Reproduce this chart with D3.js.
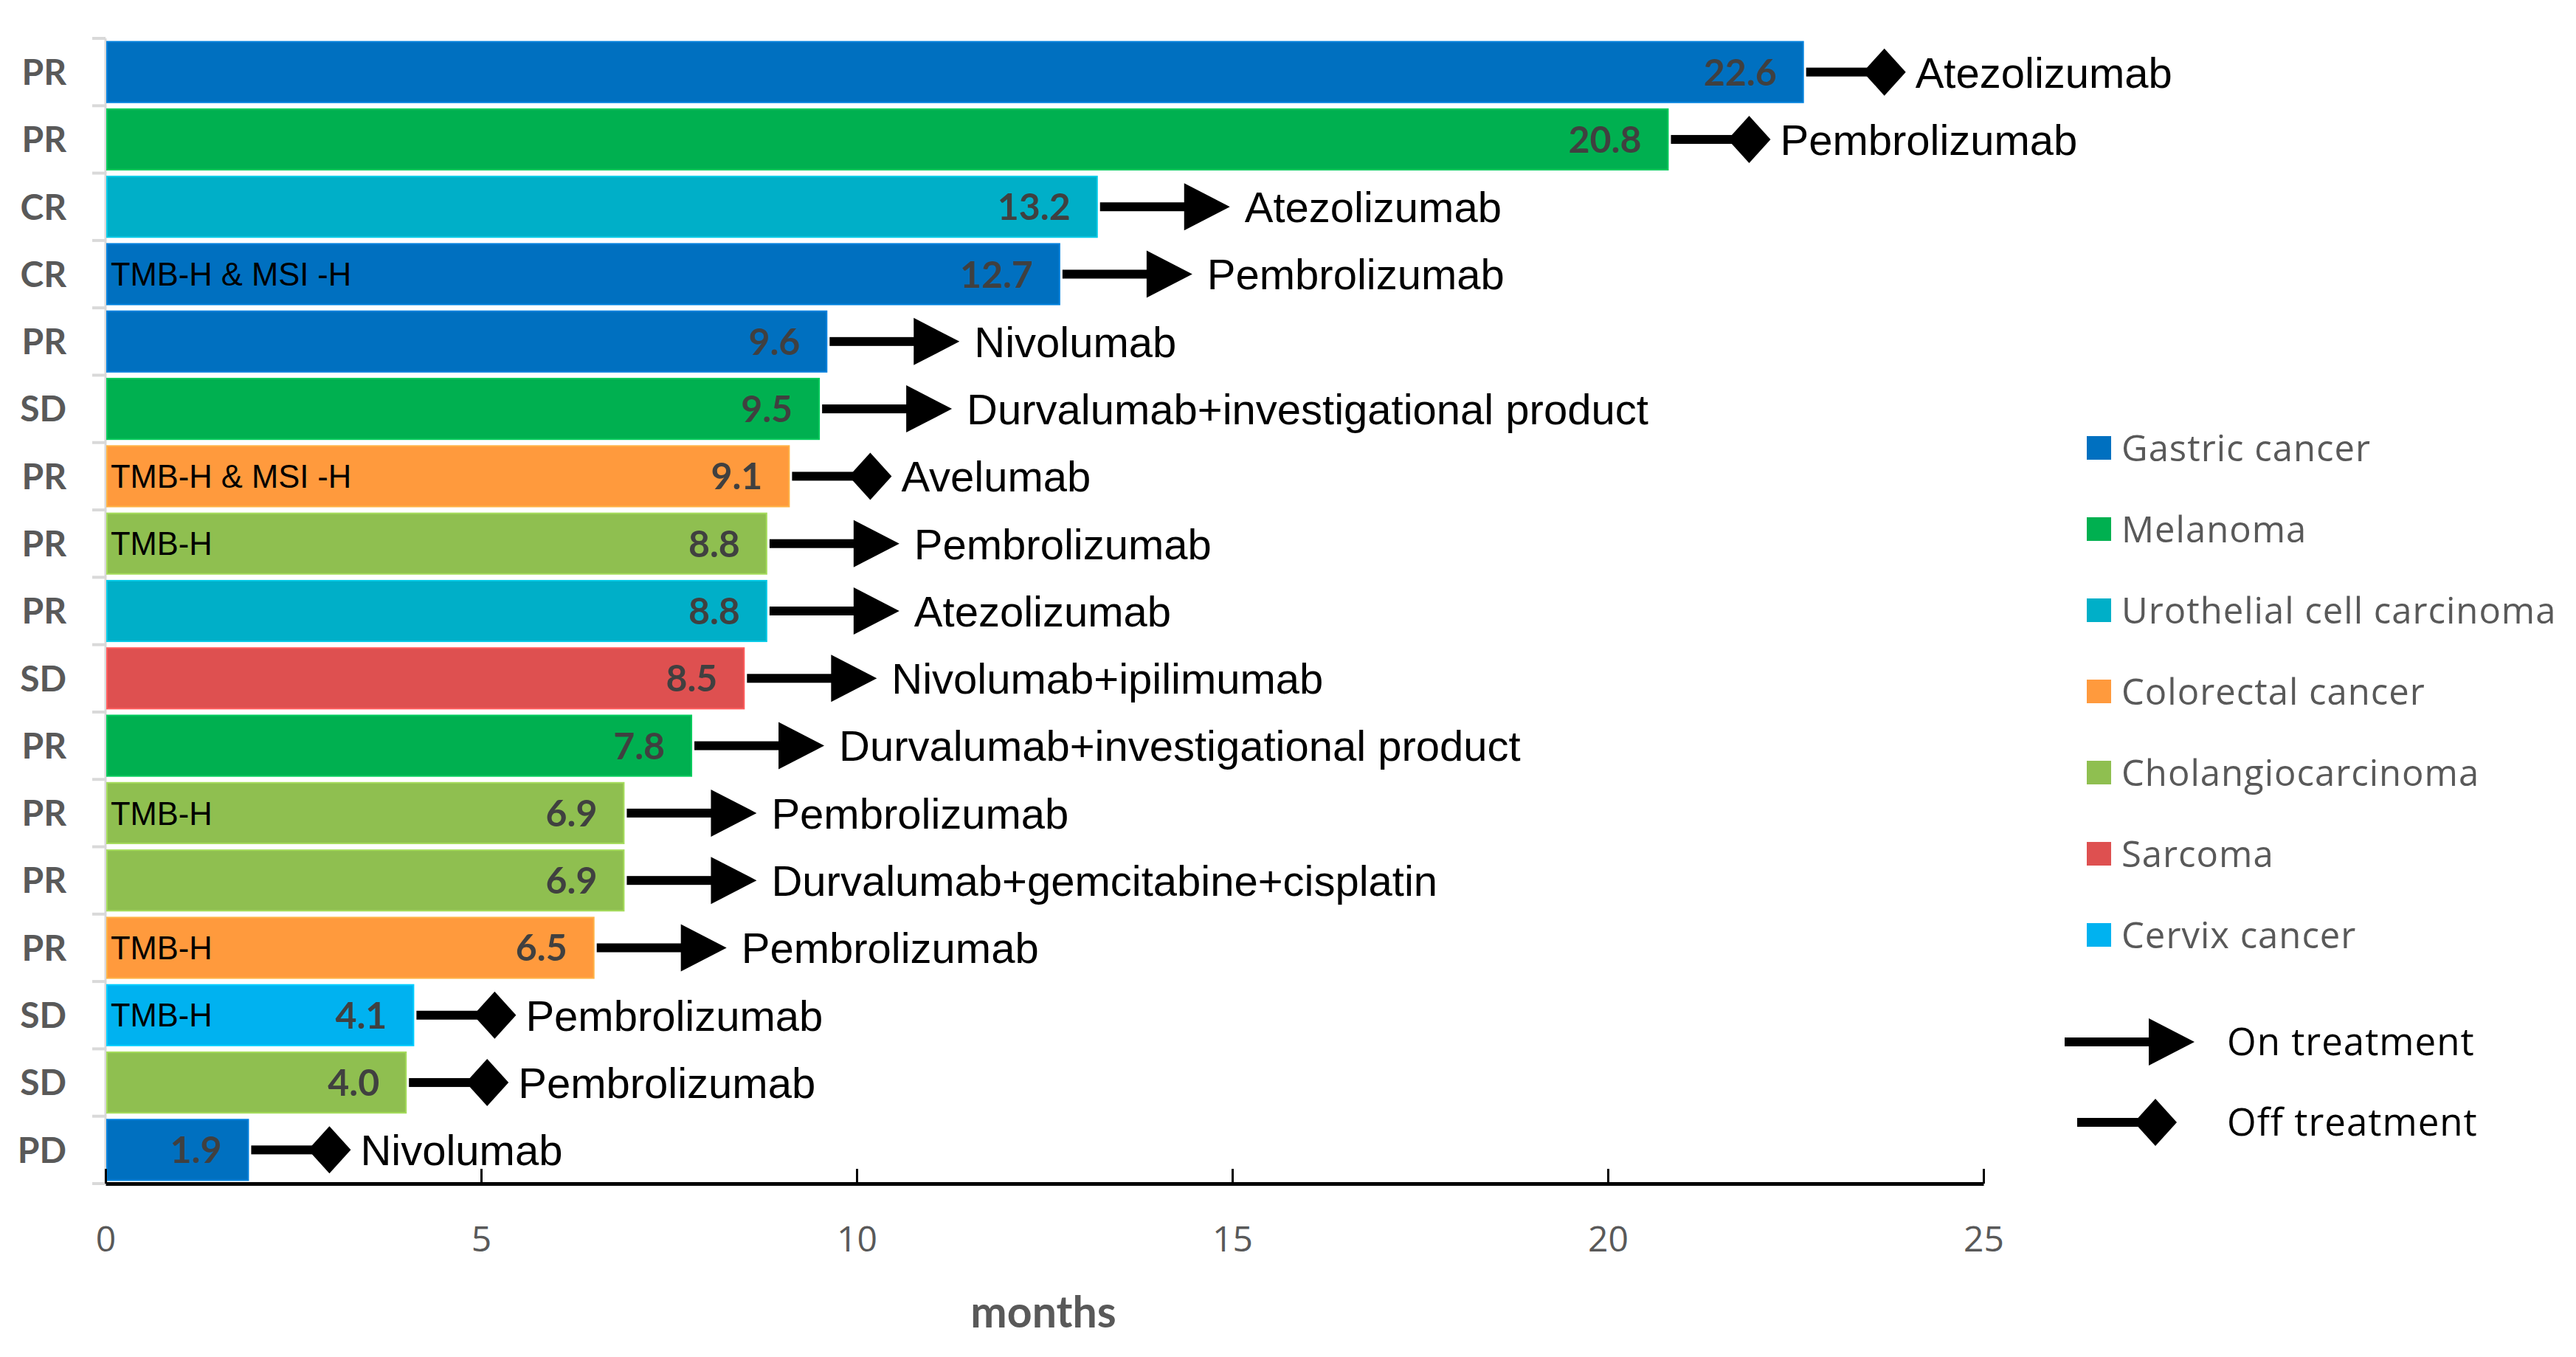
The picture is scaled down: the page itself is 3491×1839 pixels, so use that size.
<!DOCTYPE html>
<html lang="en">
<head>
<meta charset="utf-8">
<title>Duration of response by patient</title>
<script src="https://cdn.jsdelivr.net/npm/d3@7"></script>
<style>
  body { margin: 0; background: #ffffff; }
  svg { display: block; }
  .resp { font-family: Lato, "Open Sans", sans-serif; font-weight: bold; fill: #595959; }
  .val { font-family: Lato, "Open Sans", sans-serif; font-weight: bold; fill: #404040; }
  .drug { font-family: "Liberation Sans", Arial, sans-serif; fill: #000; }
  .legend-lab { font-family: "Open Sans", sans-serif; fill: #595959; }
  .xaxis text { font-family: "Open Sans", sans-serif; fill: #595959; }
</style>
</head>
<body>
<svg id="chart"></svg>
<script>
// ---- data ----
var responses = ["PR","PR","CR","CR","PR","SD","PR","PR","PR","SD","PR","PR","PR","PR","SD","SD","PD"];
var months = [22.6, 20.8, 13.2, 12.7, 9.6, 9.5, 9.1, 8.8, 8.8, 8.5, 7.8, 6.9, 6.9, 6.5, 4.1, 4.0, 1.9];
var cancers = ["Gastric cancer","Melanoma","Urothelial cell carcinoma","Gastric cancer","Gastric cancer",
  "Melanoma","Colorectal cancer","Cholangiocarcinoma","Urothelial cell carcinoma","Sarcoma","Melanoma",
  "Cholangiocarcinoma","Cholangiocarcinoma","Colorectal cancer","Cervix cancer","Cholangiocarcinoma","Gastric cancer"];
var onTreatment = [false,false,true,true,true,true,false,true,true,true,true,true,true,true,false,false,false];
var drugs = ["Atezolizumab","Pembrolizumab","Atezolizumab","Pembrolizumab","Nivolumab",
  "Durvalumab+investigational product","Avelumab","Pembrolizumab","Atezolizumab","Nivolumab+ipilimumab",
  "Durvalumab+investigational product","Pembrolizumab","Durvalumab+gemcitabine+cisplatin","Pembrolizumab",
  "Pembrolizumab","Pembrolizumab","Nivolumab"];
var biomarkers = ["","","","TMB-H & MSI -H","","","TMB-H & MSI -H","TMB-H","","","","TMB-H","","TMB-H","TMB-H","",""];

var cancerTypes = ["Gastric cancer","Melanoma","Urothelial cell carcinoma","Colorectal cancer",
  "Cholangiocarcinoma","Sarcoma","Cervix cancer"];
var cancerColors = ["#0070C0","#00B050","#00AFC8","#FF9A3D","#8FBF50","#DE5050","#00B2F0"];
var xTicks = [0, 5, 10, 15, 20, 25];

// ---- layout ----
var W = 3491, H = 1839;
var plotL = 143, plotR = 2688, plotT = 52, axisY = 1604;

var svg = d3.select("#chart").attr("width", W).attr("height", H);
svg.append("rect").attr("width", W).attr("height", H).attr("fill", "#fff");

var x = d3.scaleLinear().domain([0, 25]).range([plotL, plotR]);
var y = d3.scaleBand().domain(d3.range(months.length)).range([plotT, axisY])
  .paddingInner(0.1).paddingOuter(0.05);
var color = d3.scaleOrdinal().domain(cancerTypes).range(cancerColors);

// marker shapes, drawn from the bar end to the right
function arrowPath(g) {
  g.append("rect").attr("x", 4).attr("y", -6).attr("width", 118).attr("height", 12).attr("fill", "#000");
  g.append("path").attr("d", "M118,-32L180,0L118,32Z").attr("fill", "#000");
}
function diamondPath(g) {
  g.append("rect").attr("x", 4).attr("y", -6).attr("width", 90).attr("height", 12).attr("fill", "#000");
  g.append("path").attr("d", "M81,0L110,-32L139,0L110,32Z").attr("fill", "#000");
}

// y axis (light line, ticks at band boundaries)
var gap = y.step() - y.bandwidth();
svg.append("line").attr("x1", plotL).attr("x2", plotL)
  .attr("y1", y(0) - gap / 2).attr("y2", axisY)
  .attr("stroke", "#d9d9d9").attr("stroke-width", 3);
var bounds = d3.range(months.length + 1).map(function(i) {
  return i < months.length ? y(i) - gap / 2 : y(i - 1) + y.bandwidth() + gap / 2;
});
svg.selectAll(".ytick").data(bounds).join("line")
  .attr("x1", plotL - 18).attr("x2", plotL).attr("y1", function(d) { return d; }).attr("y2", function(d) { return d; })
  .attr("stroke", "#d9d9d9").attr("stroke-width", 4);

// response labels
svg.selectAll(".resp").data(responses).join("text")
  .attr("class", "resp")
  .attr("x", 90).attr("y", function(d, i) { return y(i) + y.bandwidth() / 2; })
  .attr("dy", "0.36em").attr("text-anchor", "end").attr("font-size", 48)
  .text(function(d) { return d; });

// bars
svg.selectAll(".bar").data(months).join("rect")
  .attr("class", "bar")
  .attr("x", x(0) + 2).attr("y", function(d, i) { return y(i); })
  .attr("width", function(d) { return x(d) - x(0) - 2; })
  .attr("height", y.bandwidth())
  .attr("fill", function(d, i) { return color(cancers[i]); })
  .attr("stroke", function(d, i) { return d3.color(color(cancers[i])).brighter(0.4); })
  .attr("stroke-width", 2);

// biomarker tags inside bars
svg.selectAll(".bio").data(biomarkers).join("text")
  .attr("class", "drug")
  .attr("x", x(0) + 7).attr("y", function(d, i) { return y(i) + y.bandwidth() / 2; })
  .attr("dy", "0.36em").attr("font-size", 43.5)
  .text(function(d) { return d; });

// values
svg.selectAll(".val").data(months).join("text")
  .attr("class", "val")
  .attr("x", function(d) { return x(d) - 36; })
  .attr("y", function(d, i) { return y(i) + y.bandwidth() / 2; })
  .attr("dy", "0.36em").attr("text-anchor", "end").attr("font-size", 50)
  .text(function(d) { return d3.format(".1f")(d); });

// treatment markers + drug names
months.forEach(function(v, i) {
  var g = svg.append("g").attr("transform", "translate(" + x(v) + "," + (y(i) + y.bandwidth() / 2) + ")");
  if (onTreatment[i]) arrowPath(g); else diamondPath(g);
  g.append("text").attr("class", "drug")
    .attr("x", onTreatment[i] ? 200 : 152).attr("dy", "0.36em").attr("font-size", 58)
    .text(drugs[i]);
});

// x axis
var xAxis = svg.append("g").attr("class", "xaxis").attr("transform", "translate(0," + axisY + ")")
  .call(d3.axisBottom(x).tickValues(xTicks).tickSizeInner(-20).tickSizeOuter(0).tickPadding(58));
xAxis.select(".domain").attr("stroke", "#000").attr("stroke-width", 5);
xAxis.selectAll(".tick line").attr("stroke", "#000").attr("stroke-width", 3);
xAxis.selectAll(".tick text").attr("font-size", 48);

svg.append("text").attr("class", "resp")
  .attr("x", 1414).attr("y", 1799).attr("text-anchor", "middle").attr("font-size", 59)
  .text("months");

// legend
var lg = svg.append("g").attr("transform", "translate(2828,0)");
cancerTypes.forEach(function(c, i) {
  var cy = 607 + i * 110;
  lg.append("rect").attr("x", 0).attr("y", cy - 16).attr("width", 33).attr("height", 32).attr("fill", color(c));
  lg.append("text").attr("class", "legend-lab").attr("x", 47).attr("y", cy).attr("dy", "0.36em")
    .attr("font-size", 49).attr("letter-spacing", 1).text(c);
});
var on = svg.append("g").attr("transform", "translate(2794,1412)");
arrowPath(on);
on.append("text").attr("class", "legend-lab").attr("x", 224).attr("dy", "0.36em")
  .attr("font-size", 51).attr("letter-spacing", 1).style("fill", "#000").text("On treatment");
var off = svg.append("g").attr("transform", "translate(2811,1521)");
diamondPath(off);
off.append("text").attr("class", "legend-lab").attr("x", 207).attr("dy", "0.36em")
  .attr("font-size", 51).attr("letter-spacing", 1).style("fill", "#000").text("Off treatment");
</script>
</body>
</html>
